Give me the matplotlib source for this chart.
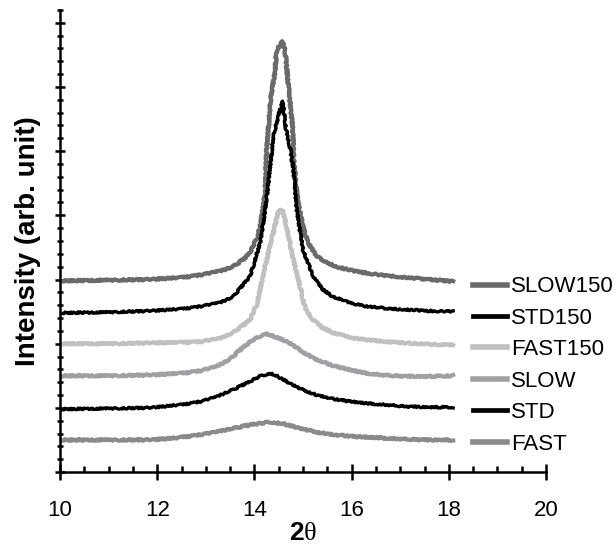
import matplotlib
matplotlib.use("Agg")
import matplotlib.pyplot as plt
from matplotlib.ticker import MultipleLocator

plt.rcParams['font.family'] = ['Liberation Sans', 'DejaVu Sans']
plt.rcParams['mathtext.fontset'] = 'custom'
plt.rcParams['mathtext.rm'] = 'Liberation Serif'
plt.rcParams['mathtext.bf'] = 'Liberation Sans:bold'

# 2theta / intensity (arb. unit, offset)
slow150_x = [10.0, 11.0, 11.85, 12.5, 12.88, 13.3, 13.56, 13.8, 13.91, 14.05, 14.12, 14.22,
             14.25, 14.34, 14.42, 14.46, 14.58, 14.63, 14.70, 14.79, 14.81, 14.86, 14.90,
             15.00, 15.10, 15.28, 15.50, 15.69, 16.0, 16.31, 16.7, 17.13, 17.6, 18.09]
slow150_y = [2.98, 2.99, 3.00, 3.03, 3.07, 3.13, 3.20, 3.33, 3.42, 3.65, 3.83, 4.35,
             5.00, 5.85, 6.22, 6.58, 6.71, 6.58, 6.01, 5.34, 4.87, 4.45, 4.20,
             3.83, 3.58, 3.36, 3.26, 3.20, 3.14, 3.10, 3.06, 3.03, 3.00, 2.97]

std150_x = [10.0, 11.0, 11.85, 12.5, 12.88, 13.3, 13.56, 13.91, 14.12, 14.25, 14.34, 14.39,
            14.49, 14.58, 14.65, 14.73, 14.77, 14.80, 14.87, 15.00, 15.21, 15.40, 15.62,
            16.0, 16.31, 16.7, 17.13, 17.6, 18.09]
std150_y = [2.48, 2.49, 2.51, 2.54, 2.58, 2.64, 2.73, 3.05, 3.57, 4.24, 4.87, 5.23,
            5.54, 5.78, 5.34, 5.07, 4.87, 4.74, 4.09, 3.46, 3.05, 2.85, 2.73,
            2.63, 2.58, 2.55, 2.53, 2.51, 2.50]

fast150_x = [10.0, 11.0, 11.85, 12.5, 12.88, 13.3, 13.56, 13.91, 14.05, 14.12, 14.25, 14.42,
             14.50, 14.58, 14.66, 14.80, 14.94, 15.00, 15.06, 15.21, 15.40, 15.62, 16.0,
             16.31, 16.7, 17.13, 17.6, 18.09]
fast150_y = [2.00, 2.00, 2.01, 2.02, 2.03, 2.08, 2.17, 2.37, 2.62, 2.85, 3.31, 3.83,
             4.08, 4.08, 3.83, 3.31, 2.89, 2.68, 2.53, 2.37, 2.25, 2.17, 2.09,
             2.06, 2.03, 2.01, 1.99, 1.98]

slow_x = [10.0, 11.0, 11.85, 12.53, 12.9, 13.22, 13.5, 13.70, 13.95, 14.22, 14.45, 14.73,
          15.0, 15.28, 15.6, 15.97, 16.3, 16.65, 17.13, 17.6, 18.09]
slow_y = [1.50, 1.50, 1.51, 1.54, 1.58, 1.64, 1.76, 1.90, 2.05, 2.16, 2.10, 2.01,
          1.87, 1.75, 1.66, 1.59, 1.54, 1.51, 1.49, 1.49, 1.50]

std_x = [10.0, 11.0, 11.85, 12.53, 12.9, 13.22, 13.55, 13.91, 14.1, 14.32, 14.5, 14.73,
         15.0, 15.28, 15.6, 15.97, 16.3, 16.65, 17.13, 17.6, 18.09]
std_y = [0.98, 0.99, 1.00, 1.05, 1.10, 1.17, 1.28, 1.41, 1.49, 1.54, 1.48, 1.38,
         1.28, 1.20, 1.14, 1.10, 1.07, 1.05, 1.02, 1.01, 1.01]

fast_x = [10.0, 11.0, 11.85, 12.4, 12.88, 13.2, 13.56, 13.95, 14.32, 14.6, 14.94, 15.3,
          15.62, 16.1, 16.65, 17.13, 17.6, 18.09]
fast_y = [0.50, 0.50, 0.50, 0.53, 0.58, 0.62, 0.68, 0.74, 0.78, 0.75, 0.68, 0.62,
          0.58, 0.55, 0.53, 0.51, 0.50, 0.50]

labels = ["SLOW150", "STD150", "FAST150", "SLOW", "STD", "FAST"]
colors = ["#6a6a6a", "#000000", "#c0c0c0", "#a0a0a4", "#000000", "#8a8a8a"]
widths = [3.0, 2.4, 3.0, 3.0, 2.4, 3.0]


def main():
    fig = plt.figure(figsize=(6.16, 5.44), dpi=100)
    ax = fig.add_axes([60 / 616, 72 / 544, 486 / 616, 462 / 544])

    series = [(slow150_x, slow150_y), (std150_x, std150_y), (fast150_x, fast150_y),
              (slow_x, slow_y), (std_x, std_y), (fast_x, fast_y)]
    for (xs, ys), lab, c, lw in zip(series, labels, colors, widths):
        line, = ax.plot(xs, ys, color=c, lw=lw, label=lab, solid_joinstyle='round')
        line.set_sketch_params(scale=0.8, length=3, randomness=6)

    ax.set_xlim(10, 20)
    ax.set_ylim(0, 7.2)
    ax.xaxis.set_major_locator(MultipleLocator(2))
    ax.xaxis.set_minor_locator(MultipleLocator(0.5))
    ax.yaxis.set_major_locator(MultipleLocator(1))
    ax.yaxis.set_minor_locator(MultipleLocator(0.2))

    for s in ["top", "right"]:
        ax.spines[s].set_visible(False)
    for s in ["left", "bottom"]:
        ax.spines[s].set_linewidth(1.8)

    ax.tick_params(axis='x', which='major', direction='inout', length=11, width=1.8,
                   labelsize=16, pad=15)
    ax.tick_params(axis='x', which='minor', direction='in', length=4.5, width=1.8)
    ax.tick_params(axis='y', which='major', direction='inout', length=6.5, width=1.8,
                   labelleft=False)
    ax.tick_params(axis='y', which='minor', direction='inout', length=4.3, width=1.8)

    ax.set_ylabel("Intensity (arb. unit)", fontsize=20, fontweight='bold')
    ax.yaxis.set_label_coords(-0.04, 0.5)
    ax.set_xlabel(r"$\mathbf{2}\mathrm{\theta}$", fontsize=19, labelpad=0)

    leg_handles = []
    for c, lw in zip(colors, widths):
        h, = ax.plot([], [], color=c, lw=lw + 1)
        leg_handles.append(h)
    fig.legend(leg_handles, labels, loc='upper left', bbox_to_anchor=(473 / 616, 0.492),
               frameon=False, fontsize=16, handlelength=1.55, handletextpad=0.15,
               labelspacing=0.47, borderpad=0, borderaxespad=0)

    fig.savefig("out.png", dpi=100)


if __name__ == "__main__":
    main()
